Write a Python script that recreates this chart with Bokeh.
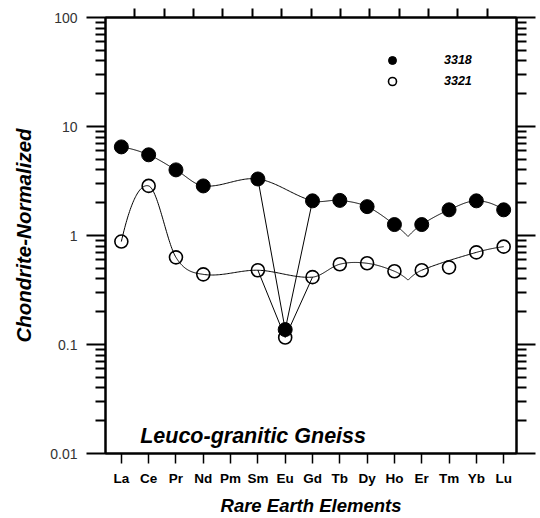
import numpy as np
from bokeh.plotting import figure
from bokeh.models import (Range1d, LogAxis, LinearAxis, FixedTicker, Label,
                          Legend, LegendItem, CustomLabelingPolicy)
from bokeh.embed import file_html
from bokeh.resources import INLINE

# ---------------- data ----------------
elements = ["La", "Ce", "Pr", "Nd", "Pm", "Sm", "Eu", "Gd", "Tb", "Dy",
            "Ho", "Er", "Tm", "Yb", "Lu"]
sample_3318 = [6.5, 5.5, 4.0, 2.85, np.nan, 3.3, 0.137, 2.08, 2.1, 1.84,
               1.26, 1.26, 1.72, 2.08, 1.72]
sample_3321 = [0.88, 2.85, 0.63, 0.44, np.nan, 0.48, 0.116, 0.415, 0.545, 0.556,
               0.47, 0.48, 0.51, 0.70, 0.79]
series_names = ["3318", "3321"]
# trend curves: points left out of the smooth curve, and the V-shaped notch
trend_skip_3318 = ["Eu"]
trend_skip_3321 = ["Eu", "Tm"]
notch_after = "Ho"
notch_3318 = 0.98
notch_3321 = 0.39
anomaly = ["Sm", "Eu", "Gd"]
y_major = [0.01, 0.1, 1, 10, 100]
y_major_labels = ["0.01", "0.1", "1", "10", "100"]
annotation_text = "Leuco-granitic Gneiss"
x_title = "Rare Earth Elements"
y_title = "Chondrite-Normalized"

FONT = "Liberation Sans"


def hermite(xs, vs, steps=40):
    xs = np.asarray(xs, float)
    ly = np.log10(np.asarray(vs, float))
    n = len(xs)
    d = np.diff(ly) / np.diff(xs)
    m = np.empty(n)
    for i in range(1, n - 1):
        m[i] = (ly[i + 1] - ly[i - 1]) / (xs[i + 1] - xs[i - 1])
    if n > 2:
        m[0] = 2 * d[0] - m[1]
        m[-1] = 2 * d[-1] - m[-2]
    else:
        m[:] = d[0]
    ox, oy = [], []
    for i in range(n - 1):
        h = xs[i + 1] - xs[i]
        t = np.linspace(0, 1, steps, endpoint=(i == n - 2))
        h00 = 2 * t**3 - 3 * t**2 + 1
        h10 = t**3 - 2 * t**2 + t
        h01 = -2 * t**3 + 3 * t**2
        h11 = t**3 - t**2
        y = h00 * ly[i] + h10 * h * m[i] + h01 * ly[i + 1] + h11 * h * m[i + 1]
        ox.extend(xs[i] + t * h)
        oy.extend(y)
    return np.array(ox), 10 ** np.array(oy)


def trend_segments(values, skip, notch_val):
    nodes = [(i, v) for i, (e, v) in enumerate(zip(elements, values))
             if e not in skip and not np.isnan(v)]
    nx = elements.index(notch_after) + 0.5
    left = [(x, v) for x, v in nodes if x < nx] + [(nx, notch_val)]
    right = [(nx, notch_val)] + [(x, v) for x, v in nodes if x > nx]
    segs = []
    for part in (left, right):
        xs, vs = zip(*part)
        segs.append(hermite(xs, vs))
    return segs


x_idx = np.arange(len(elements))

p = figure(width=540, height=518, output_backend="svg", toolbar_location=None,
           x_range=Range1d(-0.58, 14.47), y_range=Range1d(0.01, 100),
           y_axis_type="log",
           min_border_left=105, min_border_right=19, min_border_top=17,
           min_border_bottom=60)
p.grid.visible = False
p.outline_line_color = "black"
p.outline_line_width = 2
p.background_fill_color = "white"
p.border_fill_color = "white"

# trend curves
for vals, skip, notch in ((sample_3318, trend_skip_3318, notch_3318),
                          (sample_3321, trend_skip_3321, notch_3321)):
    for sx, sy in trend_segments(vals, skip, notch):
        p.line(sx, sy, line_color="black", line_width=1)
    ai = [elements.index(e) for e in anomaly]
    p.line([x_idx[i] for i in ai], [vals[i] for i in ai],
           line_color="black", line_width=1)

# points
m1 = ~np.isnan(np.array(sample_3318))
m2 = ~np.isnan(np.array(sample_3321))
r_open = p.scatter(x_idx[m2], np.array(sample_3321)[m2], marker="circle", size=13,
                   fill_color=None, line_color="black", line_width=1.6)
r_fill = p.scatter(x_idx[m1], np.array(sample_3318)[m1], marker="circle", size=14,
                   fill_color="black", line_color="black", line_width=1)

legend = Legend(items=[LegendItem(label=series_names[0], renderers=[r_fill]),
                       LegendItem(label=series_names[1], renderers=[r_open])],
                location=(277, 362), padding=0, margin=0, spacing=1,
                glyph_width=20, glyph_height=20, label_height=20,
                label_standoff=42, border_line_color=None,
                background_fill_alpha=0,
                label_text_font=FONT, label_text_font_size="12.5px",
                label_text_font_style="bold italic", label_text_color="black")
p.add_layout(legend, "center")

p.add_layout(Label(x=0.69, y=0.0144, text=annotation_text, text_font=FONT,
                   text_font_size="21.5px", text_font_style="bold italic",
                   text_color="black", text_baseline="alphabetic"))

# axes
minor = [m * d for d in y_major[:-1] for m in range(2, 10)]
yt = FixedTicker(ticks=y_major, minor_ticks=minor)

ax_l = p.yaxis[0]
ax_l.ticker = yt
ax_l.major_label_overrides = {v: s for v, s in zip(y_major, y_major_labels)}
ax_l.axis_line_width = 2
ax_l.major_tick_line_width = 2
ax_l.minor_tick_line_width = 2
ax_l.major_tick_out = 19
ax_l.major_tick_in = 0
ax_l.minor_tick_out = 10
ax_l.minor_tick_in = 0
ax_l.major_label_standoff = 9
ax_l.major_label_text_font = FONT
ax_l.major_label_text_font_size = "14px"
ax_l.major_label_text_color = "#333333"
ax_l.axis_label = y_title
ax_l.axis_label_text_font = FONT
ax_l.axis_label_text_font_size = "20.5px"
ax_l.axis_label_text_font_style = "bold italic"
ax_l.axis_label_text_color = "black"
ax_l.axis_label_standoff = 12

ax_b = p.xaxis[0]
ax_b.ticker = FixedTicker(ticks=list(x_idx), minor_ticks=[])
ax_b.major_label_overrides = {int(i): e for i, e in zip(x_idx, elements)}
ax_b.axis_line_width = 2
ax_b.major_tick_line_width = 1.5
ax_b.major_tick_out = 10
ax_b.major_tick_in = 0
ax_b.minor_tick_out = 0
ax_b.major_label_standoff = 7
ax_b.major_label_text_font = FONT
ax_b.major_label_text_font_size = "13.5px"
ax_b.major_label_text_font_style = "bold"
ax_b.major_label_text_color = "black"
ax_b.axis_label = x_title
ax_b.axis_label_text_font = FONT
ax_b.axis_label_text_font_size = "18.5px"
ax_b.axis_label_text_font_style = "bold italic"
ax_b.axis_label_text_color = "black"
ax_b.axis_label_standoff = 6

no_labels = CustomLabelingPolicy(code="return []")

ax_r = LogAxis(ticker=yt, axis_line_width=2, major_tick_line_width=2,
               minor_tick_line_width=2, major_tick_out=19, major_tick_in=0,
               minor_tick_out=10, minor_tick_in=0, major_label_standoff=0,
               major_label_text_font_size="1px", major_label_policy=no_labels)
p.add_layout(ax_r, "right")

p.extra_x_ranges = {"top": Range1d(0, 14)}
ax_t = LinearAxis(x_range_name="top",
                  ticker=FixedTicker(ticks=list(range(1, 14)), minor_ticks=[]),
                  axis_line_width=2, major_tick_line_width=2, major_tick_out=9,
                  major_tick_in=0, minor_tick_out=0, major_label_standoff=0,
                  major_label_text_font_size="1px",
                  major_label_policy=CustomLabelingPolicy(code="return []"))
p.add_layout(ax_t, "above")

open("out.html", "w").write(file_html(p, INLINE))
